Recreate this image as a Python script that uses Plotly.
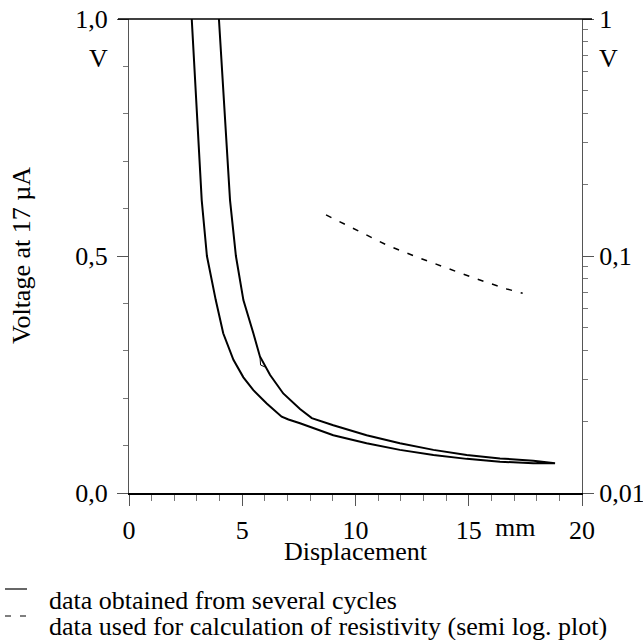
import plotly.graph_objects as go

# ---- data ----
# lower branch of the cycle curve (displacement mm, voltage V)
lower_x = [2.77, 3.21, 3.44, 3.83, 4.16, 4.61, 5.05, 5.49, 6.08, 6.74, 7.04, 7.55, 9.02, 10.49, 11.96, 13.44, 14.91, 16.38, 17.85, 18.81]
lower_y = [1.00, 0.618, 0.50, 0.407, 0.337, 0.281, 0.244, 0.217, 0.189, 0.161, 0.155, 0.147, 0.122, 0.105, 0.091, 0.080, 0.072, 0.066, 0.063, 0.063]
# upper branch (returning)
upper_x = [18.81, 17.85, 16.38, 14.91, 13.44, 11.96, 10.49, 9.02, 8.07, 7.55, 6.81, 6.23, 5.78, 5.49, 5.05, 4.72, 4.46, 3.97]
upper_y = [0.063, 0.068, 0.073, 0.080, 0.091, 0.105, 0.122, 0.143, 0.158, 0.177, 0.210, 0.249, 0.288, 0.337, 0.407, 0.50, 0.618, 1.00]
# small kink from another cycle
kink_x = [5.78, 5.81, 6.00]
kink_y = [0.288, 0.270, 0.266]
# data used for resistivity (semi log, right axis)
dash_x = [8.70, 10.08, 11.38, 12.67, 14.03, 15.35, 16.68, 17.38]
dash_y = [0.149, 0.1279, 0.1112, 0.0993, 0.0887, 0.0800, 0.0726, 0.0696]

x_tickvals = [0, 5, 10, 15, 20]
x_ticktext = ["0", "5", "10", "15", "20"]
yl_tickvals = [0, 0.5, 1.0]
yl_ticktext = ["0,0", "0,5", "1,0"]
yr_tickvals = [0.01, 0.1, 1]
yr_ticktext = ["0,01", "0,1", "1"]
yr_minor = [k * 0.01 for k in range(2, 10)] + [k * 0.1 for k in range(2, 10)]

FONT = "Liberation Serif, Times New Roman, serif"
FS = 26

fig = go.Figure()
fig.add_trace(go.Scatter(x=lower_x + upper_x, y=lower_y + upper_y, mode="lines",
                         line=dict(color="black", width=2), showlegend=False))
fig.add_trace(go.Scatter(x=kink_x, y=kink_y, mode="lines",
                         line=dict(color="black", width=1), showlegend=False))
fig.add_trace(go.Scatter(x=dash_x, y=dash_y, mode="lines", yaxis="y2",
                         line=dict(color="black", width=1.5, dash="6px,9px"), showlegend=False))

W, H = 643, 640
L, R, T, B = 129, 61, 19, 147
pw, ph = W - L - R, H - T - B

def px(xp):
    return (xp - L) / pw

def py(yp):
    return (H - B - yp) / ph

fig.update_layout(
    width=W, height=H,
    margin=dict(l=L, r=R, t=T, b=B, autoexpand=False),
    paper_bgcolor="white", plot_bgcolor="white",
    font=dict(family=FONT, size=FS, color="black"),
    xaxis=dict(range=[0, 20], tickvals=x_tickvals, ticktext=x_ticktext, automargin=False,
               ticks="outside", ticklen=11, tickcolor="#555", tickwidth=1,
               minor=dict(dtick=1, ticks="outside", ticklen=6, tickcolor="#777"),
               showline=True, linecolor="black", linewidth=1.5,
               showgrid=False, zeroline=False, tickfont=dict(size=FS),
               ticklabelstandoff=2),
    yaxis=dict(range=[0, 1], tickvals=yl_tickvals, ticktext=yl_ticktext, automargin=False,
               ticks="outside", ticklen=11, tickcolor="#555", tickwidth=1,
               minor=dict(dtick=0.1, ticks="outside", ticklen=5, tickcolor="#777"),
               showline=True, linecolor="#555", linewidth=1,
               showgrid=False, zeroline=False, tickfont=dict(size=FS),
               ticklabelstandoff=4),
    yaxis2=dict(type="log", range=[-2, 0], overlaying="y", side="right", automargin=False,
                tickvals=yr_tickvals, ticktext=yr_ticktext,
                ticks="outside", ticklen=11, tickcolor="#555", tickwidth=1,
                minor=dict(tickvals=yr_minor, ticks="outside", ticklen=5, tickcolor="#777"),
                showline=True, linecolor="#555", linewidth=1,
                showgrid=False, zeroline=False, tickfont=dict(size=FS)),
)

# top border with extended tick stubs
fig.add_shape(type="line", xref="paper", yref="paper", x0=px(118), x1=px(592), y0=1, y1=1,
              line=dict(color="black", width=1.5))

ann = [
    dict(text="V", x=px(110), y=py(58), xanchor="right", yanchor="middle"),
    dict(text="V", x=px(597), y=py(58), xanchor="left", yanchor="middle"),
    dict(text="mm", x=px(493), y=py(527), xanchor="left", yanchor="middle"),
    dict(text="Displacement", x=0.5, y=py(551), xanchor="center", yanchor="middle"),
    dict(text="Voltage at 17 µA", x=px(21), y=0.5, xanchor="center", yanchor="middle", textangle=-90),
    dict(text="data obtained from several cycles", x=px(47), y=py(600), xanchor="left", yanchor="middle"),
    dict(text="data used for calculation of resistivity (semi log. plot)", x=px(47), y=py(626),
         xanchor="left", yanchor="middle"),
]
for a in ann:
    fig.add_annotation(xref="paper", yref="paper", showarrow=False,
                       font=dict(family=FONT, size=FS, color="black"), **a)

# legend symbols
fig.add_shape(type="line", xref="paper", yref="paper", x0=px(5), x1=px(27), y0=py(589), y1=py(589),
              line=dict(color="black", width=1.2))
fig.add_shape(type="line", xref="paper", yref="paper", x0=px(5), x1=px(27), y0=py(616), y1=py(616),
              line=dict(color="black", width=1.2, dash="6px,9px"))

fig.write_html("out.html", config={"displayModeBar": False},
               post_script="document.body.style.margin='0';document.body.style.overflow='hidden';")
